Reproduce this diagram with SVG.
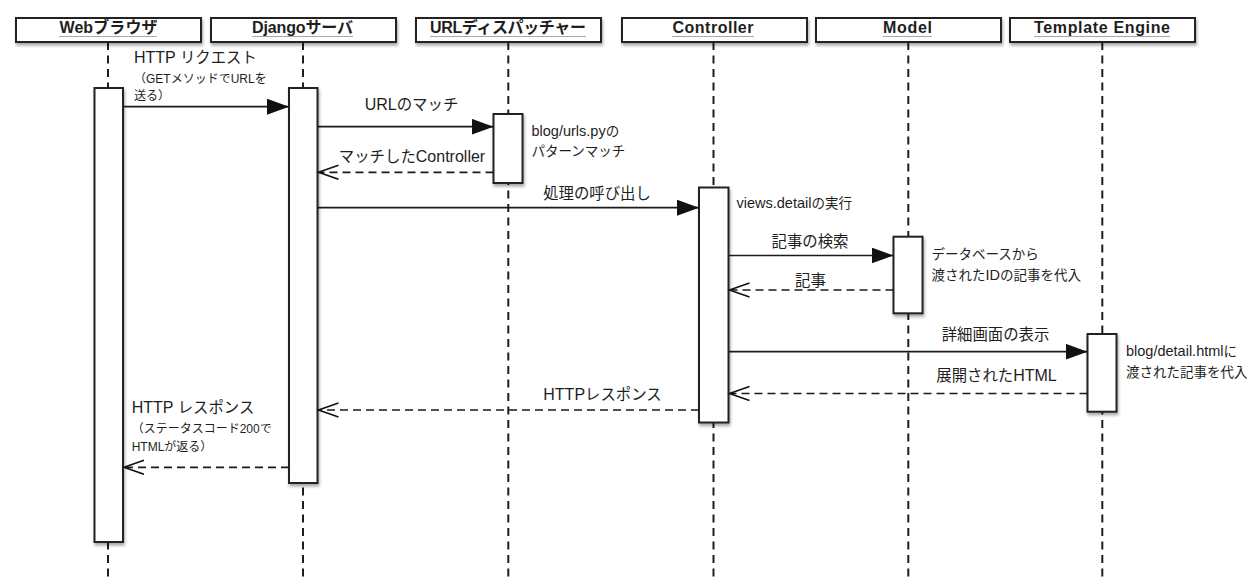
<svg xmlns="http://www.w3.org/2000/svg" width="1260" height="579" viewBox="0 0 1260 579">
<defs>
<filter id="sh" x="-20%" y="-20%" width="150%" height="150%">
<feDropShadow dx="1" dy="2.5" stdDeviation="1.6" flood-color="#000" flood-opacity="0.35"/>
</filter>
<marker id="fill" markerUnits="userSpaceOnUse" markerWidth="24" markerHeight="18" refX="22" refY="8" orient="auto">
<path d="M0,0 L22,8 L0,16 z" fill="#111"/>
</marker>
<marker id="open" markerUnits="userSpaceOnUse" markerWidth="24" markerHeight="18" refX="21" refY="8" orient="auto">
<path d="M1,1 L21,8 L1,15" fill="none" stroke="#111" stroke-width="1.6"/>
</marker>
<style>
text{font-family:'Liberation Sans','Noto Sans CJK JP',sans-serif;fill:#1e1e1e}
.hd{fill:#fff;stroke:#222;stroke-width:2;filter:url(#sh)}
.ht{font-size:16px;font-weight:bold;text-anchor:middle}
.ul{stroke:#a8a8a8;stroke-width:1}
.life{stroke:#1e1e1e;stroke-width:2;stroke-dasharray:8 5.5}
.act{fill:#fff;stroke:#222;stroke-width:2;filter:url(#sh)}
.msg{stroke:#1a1a1a;stroke-width:1.7;fill:none;marker-end:url(#fill)}
.ret{stroke:#1a1a1a;stroke-width:1.7;fill:none;stroke-dasharray:8 5;marker-end:url(#open)}
.lb{font-size:15.4px;text-anchor:middle}
.lbl{font-size:15.4px}
.lb .la,.lbl .la{font-size:16px}
.sm{font-size:12px}
.nt{font-size:13.5px}
.nt .la{font-size:14.5px}
</style>
</defs>
<rect width="1260" height="579" fill="#fff"/>

<g id="web">
<line class="life" x1="108" y1="42" x2="108" y2="579"/>
<rect class="hd" x="16" y="18" width="185" height="24"/>
<text class="ht" x="108.5" y="32.5" textLength="98">Webブラウザ</text>
<line class="ul" x1="59" y1="36.5" x2="157" y2="36.5"/>
<rect class="act" x="94.5" y="88" width="28.5" height="454"/>
</g>

<g id="django">
<line class="life" x1="303" y1="42" x2="303" y2="579"/>
<rect class="hd" x="211" y="18" width="185" height="24"/>
<text class="ht" x="302.5" y="32.5" textLength="101">Djangoサーバ</text>
<line class="ul" x1="252" y1="36.5" x2="353" y2="36.5"/>
<rect class="act" x="289" y="88" width="28.5" height="395"/>
</g>

<g id="dispatcher">
<line class="life" x1="508.3" y1="42" x2="508.3" y2="579"/>
<rect class="hd" x="416" y="18" width="185" height="24"/>
<text class="ht" x="508" y="32.5" textLength="156">URLディスパッチャー</text>
<line class="ul" x1="430" y1="36.5" x2="586" y2="36.5"/>
<rect class="act" x="493.5" y="114" width="29" height="69"/>
<text class="nt" x="531.5" y="136"><tspan class="la">blog/urls.py</tspan>の</text>
<text class="nt" x="531.5" y="156">パターンマッチ</text>
</g>

<g id="controller">
<line class="life" x1="713.5" y1="42" x2="713.5" y2="579"/>
<rect class="hd" x="622" y="18" width="185" height="24"/>
<text class="ht" x="713" y="32.5" textLength="81">Controller</text>
<line class="ul" x1="672" y1="36.5" x2="754" y2="36.5"/>
<rect class="act" x="699" y="187.5" width="29.5" height="235"/>
<text class="nt" x="736.5" y="208"><tspan class="la">views.detail</tspan>の実行</text>
</g>

<g id="model">
<line class="life" x1="908.3" y1="42" x2="908.3" y2="579"/>
<rect class="hd" x="816" y="18" width="185" height="24"/>
<text class="ht" x="907.5" y="32.5" textLength="49">Model</text>
<line class="ul" x1="883" y1="36.5" x2="932" y2="36.5"/>
<rect class="act" x="893.5" y="236.7" width="29" height="76.6"/>
<text class="nt" x="931.5" y="258.5">データベースから</text>
<text class="nt" x="931.5" y="279.5">渡された<tspan class="la">ID</tspan>の記事を代入</text>
</g>

<g id="template">
<line class="life" x1="1102.3" y1="42" x2="1102.3" y2="579"/>
<rect class="hd" x="1010" y="18" width="185" height="24"/>
<text class="ht" x="1102" y="32.5" textLength="136">Template Engine</text>
<line class="ul" x1="1034" y1="36.5" x2="1170" y2="36.5"/>
<rect class="act" x="1087.5" y="334" width="29" height="77.7"/>
<text class="nt" x="1126" y="356"><tspan class="la">blog/detail.html</tspan>に</text>
<text class="nt" x="1126" y="377.3">渡された記事を代入</text>
</g>

<g id="connectors">
<line class="msg" x1="123" y1="106.7" x2="289" y2="106.7"/>
<text class="lbl" x="134" y="62.7"><tspan class="la">HTTP </tspan>リクエスト</text>
<text class="sm" x="134" y="82.7">（GETメソッドでURLを</text>
<text class="sm" x="134" y="100">送る）</text>

<line class="msg" x1="317.5" y1="126.7" x2="493.5" y2="126.7"/>
<text class="lb" x="411.5" y="110"><tspan class="la">URL</tspan>のマッチ</text>

<line class="ret" x1="493.5" y1="172.3" x2="318.5" y2="172.3"/>
<text class="lb" x="412" y="161.7">マッチした<tspan class="la">Controller</tspan></text>

<line class="msg" x1="317.5" y1="207.7" x2="699" y2="207.7"/>
<text class="lb" x="597" y="199.3">処理の呼び出し</text>

<line class="msg" x1="728.5" y1="255.5" x2="893.5" y2="255.5"/>
<text class="lb" x="810" y="246.7">記事の検索</text>

<line class="ret" x1="893.5" y1="290" x2="729.5" y2="290"/>
<text class="lb" x="810.5" y="285.5">記事</text>

<line class="msg" x1="728.5" y1="351.7" x2="1087.5" y2="351.7"/>
<text class="lb" x="995.5" y="340">詳細画面の表示</text>

<line class="ret" x1="1087.5" y1="393.5" x2="729.5" y2="393.5"/>
<text class="lb" x="996.5" y="381">展開された<tspan class="la">HTML</tspan></text>

<line class="ret" x1="699" y1="410" x2="318.5" y2="410"/>
<text class="lb" x="602.5" y="400"><tspan class="la">HTTP</tspan>レスポンス</text>

<line class="ret" x1="289" y1="467.3" x2="124" y2="467.3"/>
<text class="lbl" x="131.7" y="412.7"><tspan class="la">HTTP </tspan>レスポンス</text>
<text class="sm" x="131.7" y="433.3">（ステータスコード200で</text>
<text class="sm" x="131.7" y="451">HTMLが返る）</text>
</g>
</svg>
